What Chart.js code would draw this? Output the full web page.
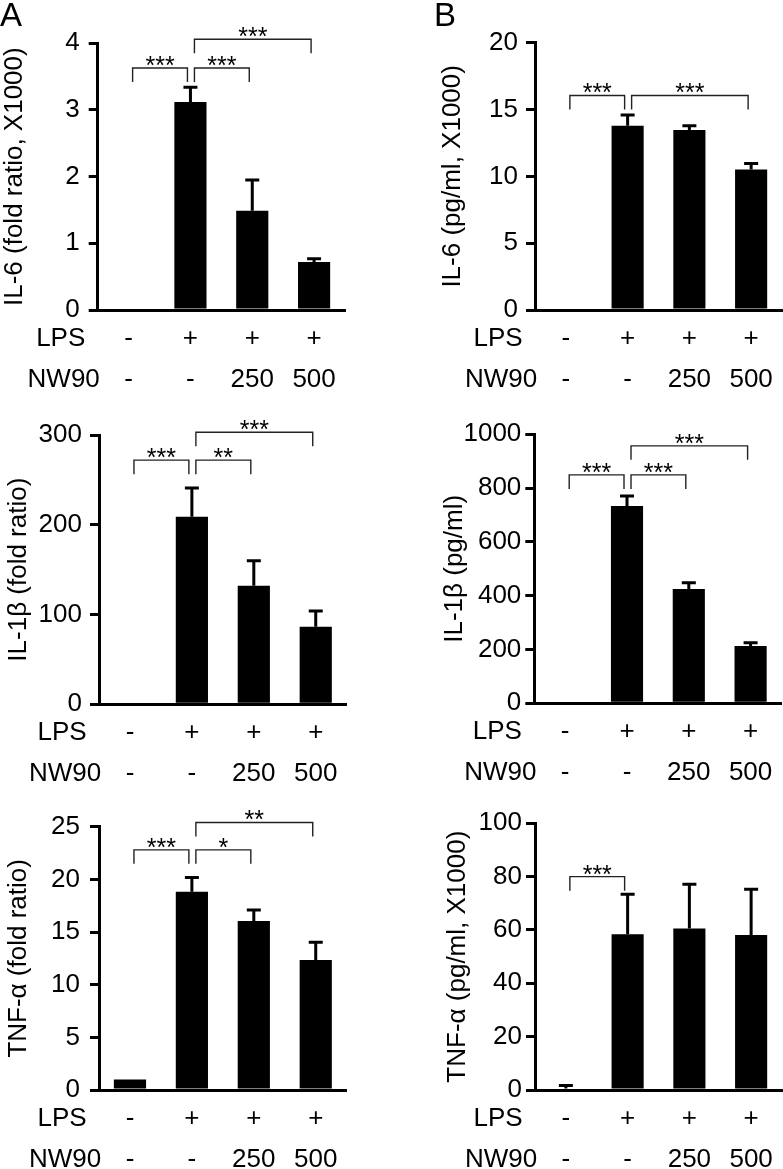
<!DOCTYPE html>
<html>
<head>
<meta charset="utf-8">
<script src="https://cdn.jsdelivr.net/npm/chart.js@4.4.1/dist/chart.umd.min.js"></script>
<style>
  body { margin: 0; background: #fff; }
  #fig { position: relative; width: 783px; height: 1169px; }
  #fig canvas { position: absolute; }
</style>
</head>
<body>
<div id="fig"></div>
<script>
// treatment rows printed under every x axis
const lpsRow = ['-', '+', '+', '+'];
const nw90Row = ['-', '-', '250', '500'];
const rowNames = ['LPS', 'NW90'];

// A: mRNA, fold ratio (mean and upper SD)
const il6FoldMean = [0, 3.12, 1.49, 0.72];
const il6FoldSd = [0, 0.22, 0.46, 0.05];
const il1bFoldMean = [0, 209, 132, 86.5];
const il1bFoldSd = [0, 32, 28, 17.5];
const tnfFoldMean = [1.0, 18.83, 16.05, 12.35];
const tnfFoldSd = [0, 1.34, 1.05, 1.68];

// B: secreted protein
const il6ProtMean = [0, 13.79, 13.46, 10.52];
const il6ProtSd = [0, 0.8, 0.33, 0.45];
const il1bProtMean = [0, 733, 425, 213];
const il1bProtSd = [0, 38, 23, 12];
const tnfProtMean = [0.6, 58.4, 60.6, 58.1];
const tnfProtSd = [1.1, 15.0, 16.5, 17.2];

// significance brackets: [from group, to group, height in data units, label]
const il6FoldSig = [[0, 1, 3.63, '***'], [1, 2, 3.63, '***'], [1, 3, 4.06, '***']];
const il1bFoldSig = [[0, 1, 272, '***'], [1, 2, 272, '**'], [1, 3, 303, '***']];
const tnfFoldSig = [[0, 1, 22.8, '***'], [1, 2, 22.8, '*'], [1, 3, 25.4, '**']];
const il6ProtSig = [[0, 1, 16.05, '***'], [1, 3, 16.05, '***']];
const il1bProtSig = [[0, 1, 849, '***'], [1, 2, 849, '***'], [1, 3, 957, '***']];
const tnfProtSig = [[0, 1, 80, '***']];

const FONT = "'Liberation Sans', Arial, Helvetica, sans-serif";
const ROW_PAD = 8.5;
const ROW_LH = 41;
const ROW_NAME_X = [-37, -34];

const extras = {
    id: 'extras',
    afterDatasetsDraw(chart, args, opts) {
        const {ctx} = chart;
        const x = chart.scales.x;
        const y = chart.scales.y;
        const mean = chart.data.datasets[0].data;
        ctx.save();
        // error bars (upper only)
        ctx.strokeStyle = '#000';
        ctx.lineWidth = 3;
        chart.getDatasetMeta(0).data.forEach((bar, i) => {
            const sd = opts.sd[i];
            if (!sd) return;
            const top = y.getPixelForValue(mean[i] + sd);
            ctx.beginPath();
            ctx.moveTo(bar.x, bar.y);
            ctx.lineTo(bar.x, top);
            ctx.moveTo(bar.x - 7, top);
            ctx.lineTo(bar.x + 7, top);
            ctx.stroke();
        });
        // brackets with stars
        ctx.lineWidth = 1.4;
        ctx.strokeStyle = '#222';
        ctx.fillStyle = '#000';
        ctx.font = '25px ' + FONT;
        ctx.textAlign = 'center';
        ctx.textBaseline = 'alphabetic';
        opts.sig.forEach(([a, b, h, label]) => {
            const x1 = x.getPixelForValue(a) + 4;
            const x2 = x.getPixelForValue(b) - 3;
            const yy = y.getPixelForValue(h);
            ctx.beginPath();
            ctx.moveTo(x1, yy + 14);
            ctx.lineTo(x1, yy);
            ctx.lineTo(x2, yy);
            ctx.lineTo(x2, yy + 14);
            ctx.stroke();
            ctx.fillText(label, (x1 + x2) / 2, yy + 6);
        });
        ctx.restore();
    },
    afterDraw(chart, args, opts) {
        const {ctx, chartArea} = chart;
        ctx.save();
        ctx.fillStyle = '#000';
        ctx.font = '26px ' + FONT;
        ctx.textAlign = 'center';
        ctx.textBaseline = 'middle';
        rowNames.forEach((name, k) => {
            ctx.fillText(name, chartArea.left + ROW_NAME_X[k], chartArea.bottom + ROW_PAD + ROW_LH / 2 + k * ROW_LH);
        });
        if (opts.letter) {
            ctx.font = '33px ' + FONT;
            ctx.textAlign = 'left';
            ctx.textBaseline = 'alphabetic';
            ctx.fillText(opts.letter, opts.letterX, 26);
        }
        ctx.restore();
    }
};

// box = canvas [left, top, width, height], area = plot [left, top, right, bottom] on the page
const panels = [
    {mean: il6FoldMean, sd: il6FoldSd, sig: il6FoldSig, max: 4, step: 1, title: 'IL-6 (fold ratio, X1000)',
        box: [0, 0, 390, 392], area: [97.7, 43.3, 345, 310], tickPad: 9, titleX: 15, letter: 'A', letterX: 0},
    {mean: il1bFoldMean, sd: il1bFoldSd, sig: il1bFoldSig, max: 300, step: 100, title: 'IL-1β (fold ratio)',
        box: [0, 392, 390, 390], area: [99, 435, 346.7, 704.3], tickPad: 8, titleX: 19},
    {mean: tnfFoldMean, sd: tnfFoldSd, sig: tnfFoldSig, max: 25, step: 5, title: 'TNF-α (fold ratio)',
        box: [0, 782, 390, 387], area: [99, 826.7, 346.7, 1090], tickPad: 10, titleX: 19},
    {mean: il6ProtMean, sd: il6ProtSd, sig: il6ProtSig, max: 20, step: 5, title: 'IL-6 (pg/ml, X1000)',
        box: [390, 0, 393, 392], area: [535, 42.7, 782, 310], tickPad: 8, titleX: 62.5, letter: 'B', letterX: 44},
    {mean: il1bProtMean, sd: il1bProtSd, sig: il1bProtSig, max: 1000, step: 200, title: 'IL-1β (pg/ml)',
        box: [390, 392, 393, 390], area: [534.3, 434.3, 781.5, 703.3], tickPad: 4, titleX: 65},
    {mean: tnfProtMean, sd: tnfProtSd, sig: tnfProtSig, max: 100, step: 20, title: 'TNF-α (pg/ml, X1000)',
        box: [390, 782, 393, 387], area: [535, 823.3, 782, 1090], tickPad: 4, titleX: 67.5}
];

function makePanel(p) {
    const [bx, by, bw, bh] = p.box;
    const [left, top, right, bottom] = p.area;
    const canvas = document.createElement('canvas');
    canvas.width = bw;
    canvas.height = bh;
    canvas.style.left = bx + 'px';
    canvas.style.top = by + 'px';
    canvas.style.width = bw + 'px';
    canvas.style.height = bh + 'px';
    document.getElementById('fig').appendChild(canvas);

    new Chart(canvas, {
        type: 'bar',
        data: {
            labels: lpsRow.map((v, i) => [v, nw90Row[i]]),
            datasets: [{
                data: p.mean,
                backgroundColor: '#000',
                borderWidth: 0,
                barPercentage: 0.52,
                categoryPercentage: 1
            }]
        },
        options: {
            responsive: false,
            animation: false,
            devicePixelRatio: 1,
            layout: {padding: {left: 0, top: top - by, right: bx + bw - right, bottom: 0}},
            plugins: {
                legend: {display: false},
                tooltip: {enabled: false},
                extras: {sd: p.sd, sig: p.sig, letter: p.letter, letterX: p.letterX}
            },
            scales: {
                x: {
                    grid: {display: false, drawTicks: false},
                    border: {display: true, color: '#000', width: 3},
                    ticks: {
                        color: '#000', autoSkip: false, maxRotation: 0, padding: ROW_PAD,
                        font: {family: FONT, size: 26, lineHeight: ROW_LH + 'px'}
                    },
                    afterFit: s => { s.height = by + bh - bottom; }
                },
                y: {
                    min: 0,
                    max: p.max,
                    grid: {display: true, drawOnChartArea: false, drawTicks: true, tickLength: 9, lineWidth: 3, color: '#000'},
                    border: {display: true, color: '#000', width: 3},
                    ticks: {
                        stepSize: p.step, color: '#000', padding: p.tickPad,
                        font: {family: FONT, size: 26},
                        callback: v => String(v)
                    },
                    title: {
                        display: true, text: p.title, color: '#000',
                        font: {family: FONT, size: 26, lineHeight: 1},
                        padding: {top: p.titleX - 13, bottom: 0}
                    },
                    afterFit: s => { s.width = left - bx; }
                }
            }
        },
        plugins: [extras]
    });
}

panels.forEach(makePanel);
</script>
</body>
</html>
